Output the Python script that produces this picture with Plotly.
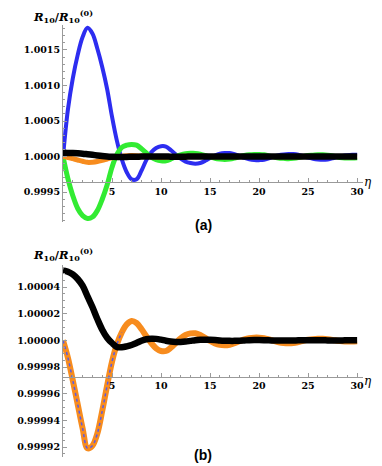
import plotly.graph_objects as go

# eta grid (samples every 0.5)
eta = [0.0, 0.5, 1.0, 1.5, 2.0, 2.5, 3.0, 3.5, 4.0, 4.5, 5.0, 5.5, 6.0, 6.5, 7.0, 7.5,
       8.0, 8.5, 9.0, 9.5, 10.0, 10.5, 11.0, 11.5, 12.0, 12.5, 13.0, 13.5, 14.0, 14.5,
       15.0, 15.5, 16.0, 16.5, 17.0, 17.5, 18.0, 18.5, 19.0, 19.5, 20.0, 20.5, 21.0,
       21.5, 22.0, 22.5, 23.0, 23.5, 24.0, 24.5, 25.0, 25.5, 26.0, 26.5, 27.0, 27.5,
       28.0, 28.5, 29.0, 29.5, 30.0]

# panel (a): deviation from 1 in units of 1e-4
blue_a = [0.0, 6.6, 11.0, 14.3, 16.8, 18.1, 17.3, 15.2, 12.6, 9.5, 5.6, 2.2, -0.4, -2.2,
          -3.2, -3.2, -2.0, -0.5, 0.6, 1.2, 1.45, 1.4, 0.9, 0.3, -0.3, -0.7, -0.9, -1.0,
          -0.9, -0.6, -0.2, 0.15, 0.4, 0.5, 0.5, 0.35, 0.1, -0.2, -0.4, -0.5, -0.5, -0.45,
          -0.25, 0.0, 0.2, 0.3, 0.35, 0.35, 0.25, 0.05, -0.15, -0.3, -0.4, -0.45, -0.4,
          -0.25, -0.05, 0.1, 0.2, 0.25, 0.25]
green_a = [0.0, -3.1, -5.5, -7.3, -8.3, -8.7, -8.5, -7.6, -6.0, -4.0, -1.5, 0.3, 1.3, 1.6,
           1.7, 1.6, 1.1, 0.5, -0.1, -0.45, -0.6, -0.6, -0.35, 0.0, 0.25, 0.4, 0.45, 0.45,
           0.35, 0.15, -0.05, -0.25, -0.35, -0.4, -0.35, -0.2, 0.0, 0.15, 0.25, 0.3, 0.3,
           0.25, 0.1, -0.05, -0.2, -0.25, -0.3, -0.25, -0.15, 0.0, 0.15, 0.2, 0.25, 0.25,
           0.2, 0.1, -0.05, -0.15, -0.2, -0.2, -0.15]

# orange and black (both panels): deviation from 1 in units of 1e-6
orange = [0.0, -13, -30, -48, -66, -81, -79, -70, -53, -34, -16, -3, 6, 12, 14.5, 13,
          8.5, 3, -2, -6, -8, -8, -5.5, -2, 1.5, 4, 5.2, 5.3, 4, 1.8, -0.5, -2.3, -3.4,
          -3.7, -3.3, -2.2, -0.7, 0.7, 1.6, 2.0, 2.0, 1.6, 0.7, -0.4, -1.4, -2.0, -2.2,
          -2.0, -1.3, -0.4, 0.4, 0.9, 1.1, 1.1, 0.8, 0.3, -0.3, -0.7, -0.9, -0.9, -0.7]
black = [52.5, 51.5, 49.5, 46, 41, 33, 25, 16, 8, 2, -2, -5, -5.2, -4.5, -3.5, -2, -0.3,
         0.8, 1.2, 1.1, 0.5, -0.3, -0.9, -1.2, -1.2, -0.9, -0.4, 0.1, 0.4, 0.5, 0.4, 0.2,
         -0.1, -0.3, -0.4, -0.4, -0.3, -0.1, 0.1, 0.2, 0.2, 0.15, 0.0, -0.1, -0.2, -0.2,
         -0.2, -0.1, 0.0, 0.1, 0.1, 0.1, 0.05, 0.0, -0.05, -0.1, -0.1, -0.05, 0.0, 0.05, 0.05]

# panel (b) blue points, visible over the orange on the first arch
eta_blue_b = [0.0, 0.5, 1.0, 1.5, 2.0, 2.5, 3.0, 3.5, 4.0, 4.5, 5.0, 5.5, 6.0]
blue_b = [0.0, -13, -30, -48, -66, -81, -79, -70, -53, -34, -16, -3, 6]

x_ticks = [5, 10, 15, 20, 25, 30]

# the page body has an 8px margin: the figure starts at (8, 8) in the window
OFF = 8
W, H = 382 - OFF, 466 - OFF
L, R, T, B = 43, 19, 17, 9


def px_x(x):
    return (x - OFF - L) / (W - L - R)


def px_y(y):
    return (H - B - (y - OFF)) / (H - T - B)


a = lambda d: [1 + v * 1e-4 for v in d]
b = lambda d: [1 + v * 1e-6 for v in d]

fig = go.Figure()
fig.add_trace(go.Scatter(x=eta, y=a(blue_a), mode='lines', line=dict(color='rgb(45,45,240)', width=4, shape='spline'),
                         xaxis='x', yaxis='y'))
fig.add_trace(go.Scatter(x=eta, y=a(green_a), mode='lines', line=dict(color='rgb(50,235,50)', width=5, shape='spline'),
                         xaxis='x', yaxis='y'))
fig.add_trace(go.Scatter(x=eta, y=b(orange), mode='lines', line=dict(color='rgb(247,140,30)', width=5, shape='spline'),
                         xaxis='x', yaxis='y'))
fig.add_trace(go.Scatter(x=eta, y=b(black), mode='lines', line=dict(color='black', width=6.5, shape='spline'),
                         xaxis='x', yaxis='y'))

fig.add_trace(go.Scatter(x=eta, y=b(orange), mode='lines', line=dict(color='rgb(247,140,30)', width=6, shape='spline'),
                         xaxis='x2', yaxis='y2'))
fig.add_trace(go.Scatter(x=eta_blue_b, y=b(blue_b), mode='lines',
                         line=dict(color='rgb(90,90,230)', width=1.5, dash='dot', shape='spline'),
                         xaxis='x2', yaxis='y2'))
fig.add_trace(go.Scatter(x=eta, y=b(black), mode='lines', line=dict(color='black', width=6.5, shape='spline'),
                         xaxis='x2', yaxis='y2'))

ya_range = [0.99908, 1.00185]
yb_range = [0.9999125, 1.0000565]
ya_dom = [px_y(222), 1.0]
yb_dom = [0.0, px_y(265)]
xa_cross = 0.999636
xb_cross = 0.9999725


def pos(v, rng, dom):
    return dom[0] + (v - rng[0]) / (rng[1] - rng[0]) * (dom[1] - dom[0])


tickfont = dict(family='DejaVu Serif', size=9.5, color='black', weight='bold')
axcol = '#9a9a9a'
xcommon = dict(range=[0, 30.6], domain=[0, 1], anchor='free', showline=True, linecolor=axcol,
               linewidth=1, ticks='inside', ticklen=4, tickcolor=axcol, tickvals=x_ticks,
               tickfont=tickfont, showgrid=False, zeroline=False,
               minor=dict(tick0=0, dtick=1, ticks='inside', ticklen=2, tickcolor=axcol, showgrid=False))
fig.update_layout(
    width=W, height=H, margin=dict(l=L, r=R, t=T, b=B),
    plot_bgcolor='white', paper_bgcolor='white', showlegend=False,
    xaxis=dict(xcommon, position=pos(xa_cross, ya_range, ya_dom)),
    xaxis2=dict(xcommon, position=pos(xb_cross, yb_range, yb_dom)),
    yaxis=dict(range=ya_range, domain=ya_dom, anchor='x', showline=True, linecolor=axcol, ticks='inside',
               ticklen=4, tickcolor=axcol, tick0=1, dtick=0.0005, tickformat='.4f', tickfont=tickfont,
               showgrid=False, zeroline=False,
               minor=dict(tick0=1, dtick=0.0001, ticks='inside', ticklen=2, tickcolor=axcol, showgrid=False)),
    yaxis2=dict(range=yb_range, domain=yb_dom, anchor='x2', showline=True, linecolor=axcol, ticks='inside',
                ticklen=4, tickcolor=axcol, tick0=1, dtick=0.00002, tickformat='.5f', tickfont=tickfont,
                showgrid=False, zeroline=False,
                minor=dict(tick0=1, dtick=0.000005, ticks='inside', ticklen=2, tickcolor=axcol, showgrid=False)),
)

title = '<i>R</i><sub>10</sub>/<i>R</i><sub>10</sub><sup>(0)</sup>'
tfont = dict(family='DejaVu Serif', size=11.5, color='black', weight='bold')
efont = dict(family='DejaVu Serif', size=12, color='black', style='italic')
lfont = dict(family='Liberation Sans', size=14, color='black', weight='bold')
ann = [
    dict(text=title, x=px_x(51), y=px_y(17), font=tfont),
    dict(text=title, x=px_x(51), y=px_y(254), font=tfont),
    dict(text='η', x=px_x(368), y=px_y(182), font=efont),
    dict(text='η', x=px_x(368), y=px_y(381), font=efont),
    dict(text='(a)', x=px_x(197), y=px_y(225), font=lfont),
    dict(text='(b)', x=px_x(197), y=px_y(455), font=lfont),
]
for an in ann:
    fig.add_annotation(xref='paper', yref='paper', showarrow=False, xanchor='center', yanchor='middle', **an)

fig.write_html("out.html")
